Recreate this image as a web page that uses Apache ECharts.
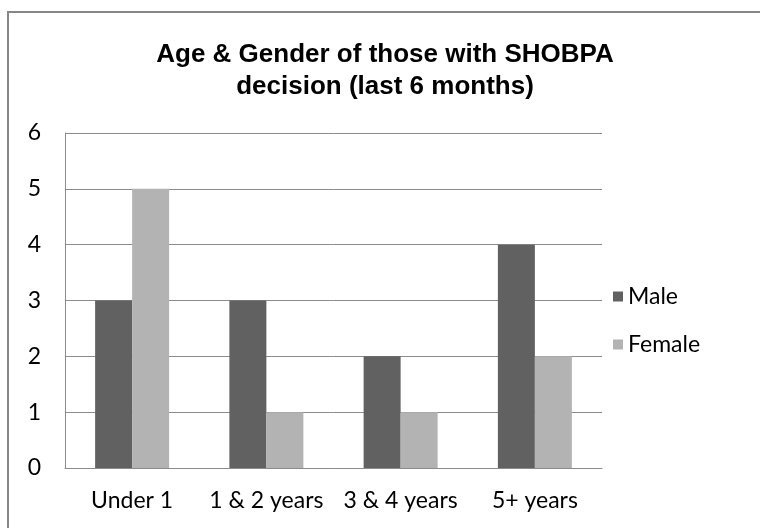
<!DOCTYPE html>
<html>
<head>
<meta charset="utf-8">
<script src="https://cdn.jsdelivr.net/npm/echarts@6/dist/echarts.min.js"></script>
<style>
  html, body { margin: 0; padding: 0; background: #fff; }
  #main { width: 760px; height: 528px; }
</style>
</head>
<body>
<div id="main"></div>
<script>
// chart data
const categories = ['Under 1', '1 & 2 years', '3 & 4 years', '5+ years'];
const maleValues = [3, 3, 2, 4];
const femaleValues = [5, 1, 1, 2];
const yTicks = [0, 1, 2, 3, 4, 5, 6];

const chart = echarts.init(document.getElementById('main'));
const labelFont = 'Lato, "Open Sans", sans-serif';

const option = {
  animation: false,
  backgroundColor: '#fff',
  title: {
    text: 'Age & Gender of those with SHOBPA\ndecision (last 6 months)',
    left: 380,
    textAlign: 'center',
    top: 34,
    textStyle: {
      fontFamily: '"Liberation Sans", Arial, sans-serif',
      fontWeight: 'bold',
      fontSize: 26,
      lineHeight: 32,
      color: '#000'
    }
  },
  // outer chart frame
  graphic: [{
    type: 'rect',
    shape: { x: 8, y: 12, width: 800, height: 600 },
    style: { fill: 'none', stroke: '#868686', lineWidth: 2 },
    silent: true
  }],
  legend: {
    orient: 'vertical',
    left: 608,
    top: 280,
    itemWidth: 10,
    itemHeight: 10,
    itemGap: 25,
    icon: 'rect',
    textStyle: { fontFamily: labelFont, fontSize: 23, color: '#000' },
    data: ['Male', 'Female']
  },
  grid: { left: 65, right: 158, top: 133, bottom: 60 },
  xAxis: {
    type: 'category',
    data: categories,
    axisTick: { show: false },
    axisLine: { lineStyle: { color: '#8c8c8c', width: 1 } },
    axisLabel: {
      interval: 0,
      hideOverlap: false,
      fontFamily: labelFont,
      fontSize: 23,
      color: '#000',
      margin: 21
    }
  },
  yAxis: {
    type: 'value',
    min: yTicks[0],
    max: yTicks[yTicks.length - 1],
    interval: 1,
    axisLine: { show: true, lineStyle: { color: '#8c8c8c', width: 1 } },
    axisTick: { show: false },
    splitLine: { lineStyle: { color: '#8c8c8c', width: 1 } },
    axisLabel: { fontFamily: labelFont, fontSize: 23, color: '#000', margin: 24 }
  },
  series: [
    {
      name: 'Male',
      type: 'bar',
      data: maleValues,
      barWidth: 37,
      barGap: '0%',
      itemStyle: { color: '#616161' }
    },
    {
      name: 'Female',
      type: 'bar',
      data: femaleValues,
      barWidth: 37,
      itemStyle: { color: '#b3b3b3' }
    }
  ]
};

chart.setOption(option);
</script>
</body>
</html>
